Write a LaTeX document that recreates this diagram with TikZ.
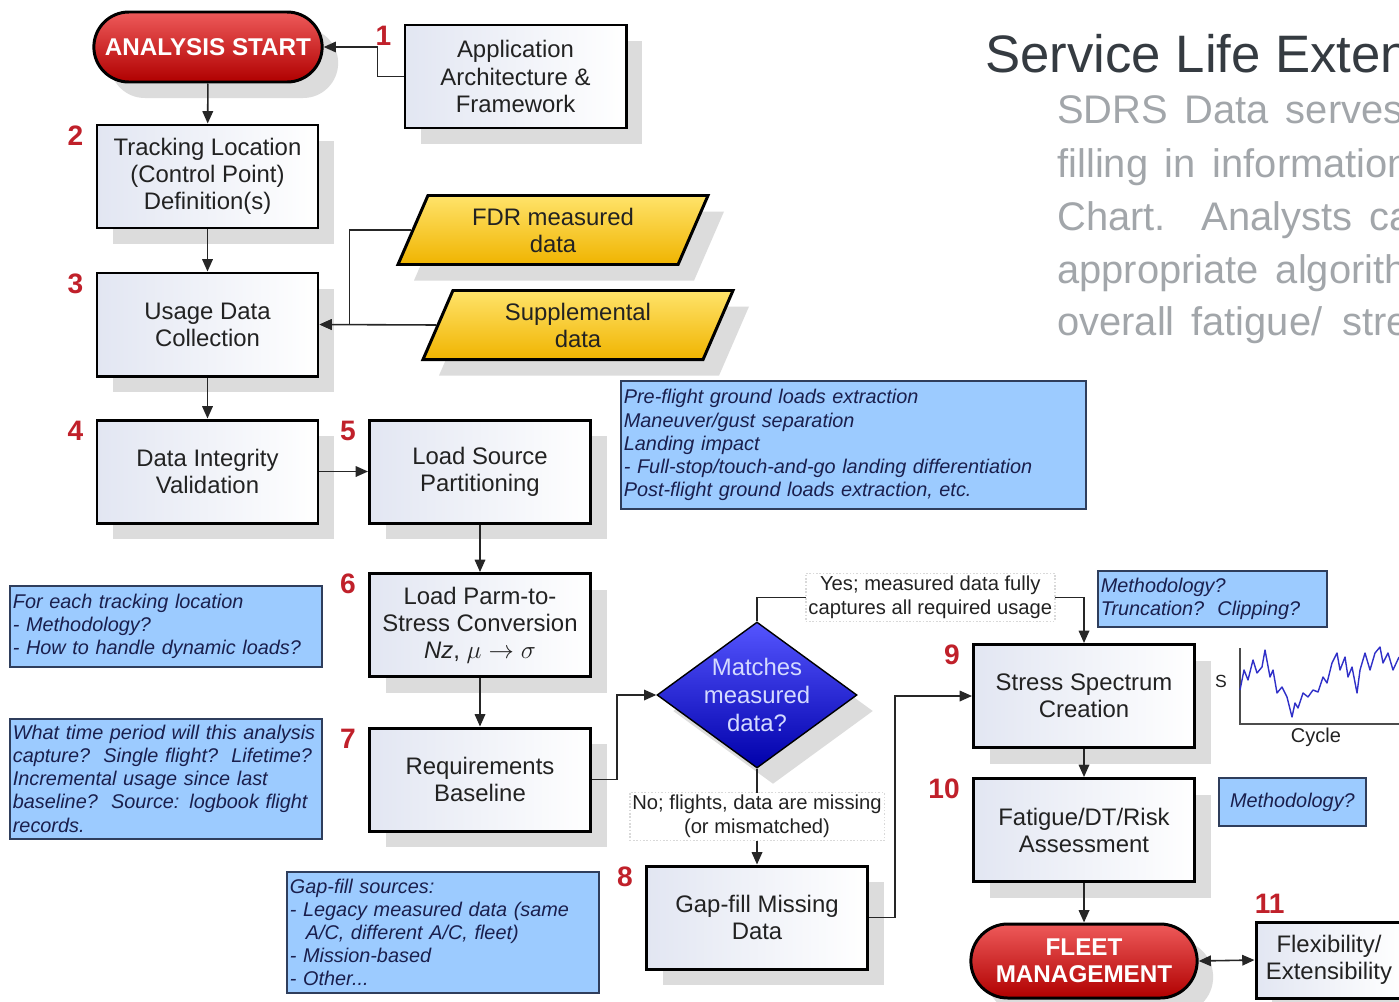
\documentclass[tikz,border=0pt]{standalone}
\usepackage{fontspec}
\setmainfont{Liberation Sans}
\usetikzlibrary{arrows.meta, shapes.geometric, shapes.misc, shadows, positioning}
\definecolor{boxtext}{HTML}{222222}
\definecolor{boxtint}{HTML}{E2E6F2}
\definecolor{shadowgray}{HTML}{DCDCDC}
\definecolor{pilltop}{HTML}{EE5A5A}
\definecolor{pillbottom}{HTML}{B00000}
\definecolor{goldtop}{HTML}{FFE36A}
\definecolor{goldbottom}{HTML}{F0B400}
\definecolor{bluetop}{HTML}{5555FF}
\definecolor{bluebottom}{HTML}{0000AA}
\definecolor{diamondtext}{HTML}{D4DAFF}
\definecolor{notefill}{HTML}{9CCBFF}
\definecolor{noteline}{HTML}{2F3E5C}
\definecolor{notetext}{HTML}{1A1F4D}
\definecolor{numred}{HTML}{C0202A}
\definecolor{linegray}{HTML}{262626}
\definecolor{titlegray}{HTML}{353B41}
\definecolor{paragray}{HTML}{A2A6AA}
\definecolor{wave}{HTML}{3030C8}
\newlength{\pxu}
\setlength{\pxu}{0.02cm}
\newcommand{\boxfont}{\fontsize{13.6}{15.4}\selectfont}
\newcommand{\pillfont}{\fontsize{13.8}{15.4}\selectfont\bfseries}
\newcommand{\diamondfont}{\fontsize{13.6}{15.7}\selectfont}
\newcommand{\notefont}{\fontsize{11.3}{13.1}\selectfont\itshape}
\newcommand{\numfont}{\fontsize{16}{16}\selectfont\bfseries}
\newcommand{\labelfont}{\fontsize{11.5}{13.6}\selectfont}
\newcommand{\parafont}{\fontsize{22.7}{30}\selectfont\spaceskip=0.42em\relax}

\begin{document}
\begin{tikzpicture}[x=0.02cm, y=-0.02cm,
    boxshadow/.style={drop shadow={shadow xshift=16\pxu, shadow yshift=-16\pxu, fill=shadowgray, opacity=1}},
    stepbox/.style={draw=black, line width=1.7pt, minimum width=221\pxu, minimum height=103\pxu, inner sep=2pt, align=center, font=\boxfont, text=boxtext, left color=boxtint, right color=white, boxshadow},
    pill/.style={rounded rectangle, draw=black, line width=1.7pt, minimum width=240\pxu, minimum height=70\pxu, align=center, font=\pillfont, text=white, top color=pilltop, bottom color=pillbottom, boxshadow},
    datapara/.style={trapezium, trapezium left angle=62, trapezium right angle=118, trapezium stretches body=true, minimum width=310\pxu, minimum height=69\pxu, draw=black, line width=1.7pt, align=center, font=\boxfont, text=boxtext, top color=goldtop, bottom color=goldbottom, boxshadow},
    decision/.style={diamond, draw=black, line width=0.8pt, minimum width=200\pxu, minimum height=146\pxu, inner sep=0pt, top color=bluetop, bottom color=bluebottom, boxshadow},
    dtext/.style={align=center, font=\diamondfont, text=diamondtext},
    note/.style={draw=noteline, line width=1pt, fill=notefill, align=left, font=\notefont, text=notetext, inner xsep=3\pxu, inner ysep=1pt, anchor=north west},
    stepnum/.style={font=\numfont, text=numred, inner sep=0pt},
    edgelabel/.style={fill=white, draw=black!15, densely dotted, font=\labelfont, text=boxtext, align=center, inner sep=1.5pt},
    arrow/.style={-{Triangle[length=7pt, width=6pt]}, line width=0.9pt, draw=linegray},
    dblarrow/.style={{Triangle[length=7pt, width=6pt]}-{Triangle[length=7pt, width=6pt]}, line width=0.9pt, draw=linegray},
    axis/.style={line width=0.8pt, draw=black!70}
  ]
  \useasboundingbox (0,0) rectangle (1399,1001);
  \clip (0,0) rectangle (1399,1001);
  \fill[white] (0,0) rectangle (1399,1001);

  % Title and text block
  \node[font=\fontsize{30}{36}\selectfont, text=titlegray, anchor=base west, inner sep=0pt] (title) at (985,72) {Service Life Extension};
  \begin{scope}[every node/.style={font=\parafont, text=paragray, anchor=base west, inner sep=0pt}]
    \node (para1) at (1057,123) {SDRS Data serves};
    \node (para2) at (1057,177) {filling in information};
    \node (para3) at (1057,230) {Chart.\hspace{0.9em}Analysts can};
    \node (para4) at (1057,283) {appropriate algorithm};
    \node (para5) at (1057,335) {overall fatigue/\hspace{0.5em}stress};
  \end{scope}

  % Main column
  \node[pill] (start) at (208,47) {ANALYSIS START};
  \node[stepbox] (arch) at (515.5,76.5) {Application\\Architecture \&\\Framework};
  \node[stepbox] (track) at (207.5,176.5) {Tracking Location\\(Control Point)\\Definition(s)};
  \node[stepbox] (usage) at (207.5,324.5) {Usage Data\\Collection};
  \node[stepbox] (integrity) at (207.5,471.5) {Data Integrity\\Validation};

  % Data sources
  \node[datapara] (fdr) at (553,230) {FDR measured\\data};
  \node[datapara] (supp) at (578,325) {Supplemental\\data};

  % Second column
  \node[stepbox] (partition) at (480,471.5) {Load Source\\Partitioning};
  \node[stepbox] (convert) at (480,625) {Load Parm-to-\\Stress Conversion\\\textit{Nz}, $\mu \rightarrow \sigma$};
  \node[stepbox] (require) at (480,779.5) {Requirements\\Baseline};

  % Decision and gap-fill
  \node[decision] (match) at (757,695) {};
  \node[dtext] (matchtext) at (match) {Matches\\measured\\data?};
  \node[stepbox] (gapfill) at (757,917.5) {Gap-fill Missing\\Data};

  % Right column
  \node[stepbox] (stress) at (1084,696) {Stress Spectrum\\Creation};
  \node[stepbox] (fatigue) at (1084,830) {Fatigue/DT/Risk\\Assessment};
  \node[pill, minimum width=238\pxu, minimum height=74\pxu] (fleet) at (1084,961) {FLEET\\MANAGEMENT};
  \node[stepbox, minimum width=146\pxu, minimum height=76\pxu] (flex) at (1329,960) {Flexibility/\\Extensibility};

  % Step numbers
  \foreach \num/\blk in {1/arch, 2/track, 3/usage, 4/integrity, 5/partition, 6/convert, 7/require, 8/gapfill, 9/stress, 10/fatigue} {
      \node[stepnum, anchor=north east] (num\num) at ([xshift=-12\pxu, yshift=-2\pxu]\blk.north west) {\num};
    }
  \node[stepnum, anchor=south west] (num11) at ([yshift=7\pxu]flex.north west) {11};

  % Notes
  \node[note, minimum width=465\pxu, minimum height=128\pxu, text width=459\pxu] (notepart) at (620,380) {Pre-flight ground loads extraction\\Maneuver/gust separation\\Landing impact\\- Full-stop/touch-and-go landing differentiation\\Post-flight ground loads extraction, etc.};
  \node[note, minimum width=312\pxu, minimum height=81\pxu, text width=306\pxu] (noteconv) at (9,585) {For each tracking location\\- Methodology?\\- How to handle dynamic loads?};
  \node[note, minimum width=312\pxu, minimum height=120\pxu, text width=306\pxu] (notereq) at (9,718) {What time period will this analysis\\capture?\ \ Single flight?\ \ Lifetime?\\Incremental usage since last\\baseline?\ \ Source: logbook flight\\records.};
  \node[note, minimum width=312\pxu, minimum height=121\pxu, text width=306\pxu] (notegap) at (286,871) {Gap-fill sources:\\- Legacy measured data (same\\\hspace*{0.8em}A/C, different A/C, fleet)\\- Mission-based\\- Other...};
  \node[note, minimum width=229\pxu, minimum height=56\pxu, text width=223\pxu] (notestress) at (1097,570) {Methodology?\\Truncation?\ \ Clipping?};
  \node[note, minimum width=147\pxu, minimum height=48\pxu, align=center] (notefat) at (1218,777) {Methodology?};

  % Stress history sketch
  \node[font=\fontsize{10}{12}\selectfont, text=boxtext] (slabel) at (1221,681) {S};
  \node[font=\fontsize{11.4}{13}\selectfont, text=boxtext] (cyclelabel) at (1316,737) {Cycle};
  \draw[axis] (1240,648) -- (1240,724) -- (1399,724);
  \draw[wave, line width=0.8pt, line join=round] plot coordinates {(1240,690) (1244,670) (1248,680) (1253,660) (1257,673) (1262,667) (1265,650) (1270,677) (1273,670) (1277,693) (1282,687) (1287,697) (1292,717) (1295,703) (1298,708) (1303,693) (1308,697) (1313,690) (1318,692) (1323,677) (1327,683) (1332,663) (1337,653) (1340,670) (1345,657) (1348,677) (1352,667) (1357,693) (1360,670) (1365,653) (1370,670) (1375,653) (1380,647) (1383,663) (1388,653) (1393,670) (1399,657)};

  % Connectors
  \draw[arrow] (arch.west) -- ++(-26,0) |- (start.east);
  \draw[arrow] (start) -- (track);
  \draw[arrow] (track) -- (usage);
  \draw[arrow] (fdr.west) -- ++(-62,0) |- (usage.east);
  \draw[arrow] (supp.west) -- (usage.east);
  \draw[arrow] (usage) -- (integrity);
  \draw[arrow] (integrity) -- (partition);
  \draw[arrow] (partition) -- (convert);
  \draw[arrow] (convert) -- (require);
  \draw[arrow] (require.east) -- ++(25,0) |- (match.west);
  \draw[arrow] (match.north) -- ++(0,-24) -| node[edgelabel, pos=0.265] (yeslabel) {Yes; measured data fully\\captures all required usage} (stress.north);
  \draw[arrow] (match.south) -- node[edgelabel] (nolabel) {No; flights, data are missing\\(or mismatched)} (gapfill.north);
  \draw[arrow] (gapfill.east) -- ++(26,0) |- (stress.west);
  \draw[arrow] (stress) -- (fatigue);
  \draw[arrow] (fatigue) -- (fleet);
  \draw[dblarrow] (fleet.east) -- (flex.west);
\end{tikzpicture}
\end{document}
